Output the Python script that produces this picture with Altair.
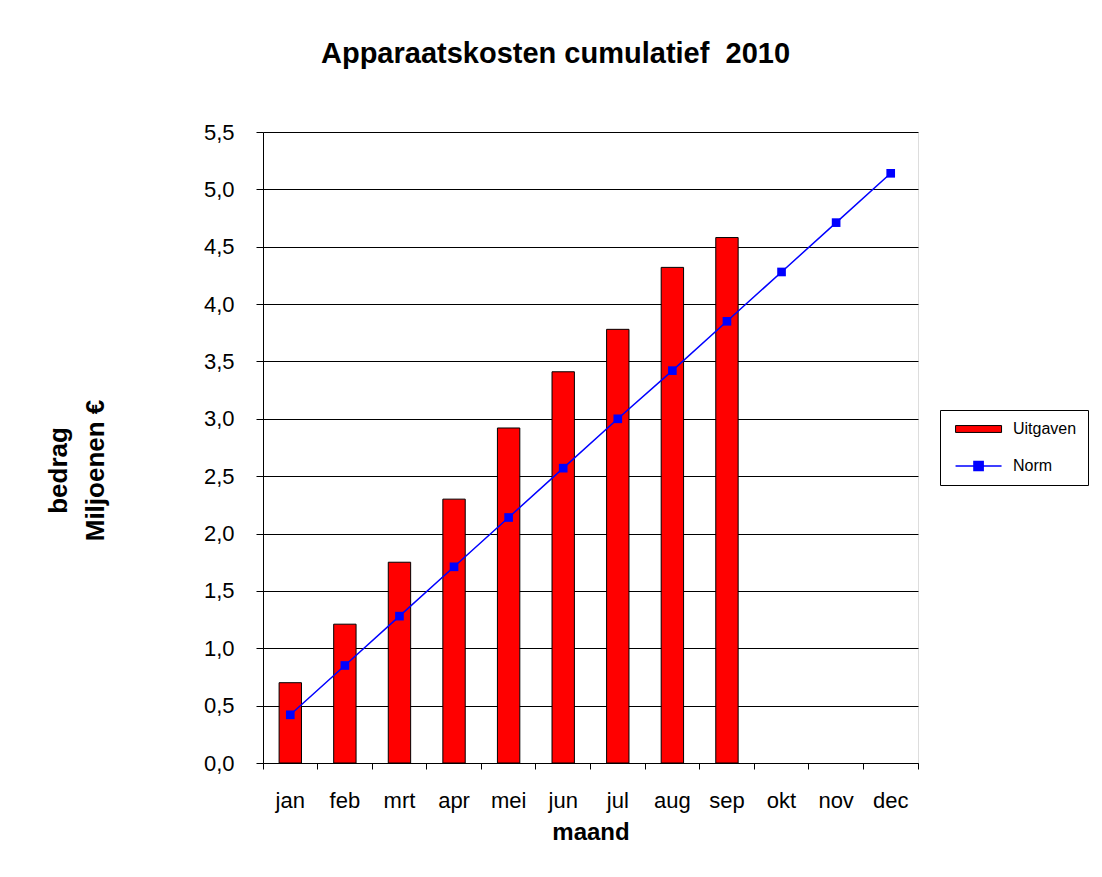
import altair as alt
import pandas as pd

months = ["jan", "feb", "mrt", "apr", "mei", "jun", "jul", "aug", "sep", "okt", "nov", "dec"]
uitgaven = [0.70, 1.21, 1.75, 2.30, 2.92, 3.41, 3.78, 4.32, 4.58]
norm = [0.42, 0.85, 1.28, 1.71, 2.14, 2.57, 3.00, 3.42, 3.85, 4.28, 4.71, 5.14]
series_names = ["Uitgaven", "Norm"]
series_colors = ["#ff0000", "#0000ff"]
y_ticks = [0.0, 0.5, 1.0, 1.5, 2.0, 2.5, 3.0, 3.5, 4.0, 4.5, 5.0, 5.5]

bars_df = pd.DataFrame({"maand": months[:len(uitgaven)], "bedrag": uitgaven, "reeks": series_names[0]})
norm_df = pd.DataFrame({"maand": months, "bedrag": norm, "reeks": series_names[1]})

FONT = "Liberation Sans"
W, H = 655, 631

x_enc = alt.X(
    "maand:N",
    sort=months,
    scale=alt.Scale(domain=months, paddingInner=0, paddingOuter=0),
    axis=alt.Axis(
        title="maand", titleFont=FONT, titleFontSize=24, titleFontWeight="bold",
        titleColor="black", titlePadding=9,
        labelAngle=0, labelFont=FONT, labelFontSize=22, labelColor="black",
        labelPadding=21, bandPosition=1, tickExtra=True,
        tickSize=6, tickColor="black", domainColor="black", grid=False,
    ),
)
y_enc = alt.Y(
    "bedrag:Q",
    scale=alt.Scale(domain=[0, 5.5], nice=False, zero=True),
    axis=alt.Axis(
        values=y_ticks,
        labelExpr="replace(format(datum.value, '.1f'), '.', ',')",
        title=["bedrag", "Miljoenen €"], titleFont=FONT, titleFontSize=26,
        titleFontWeight="bold", titleColor="black", titleLineHeight=37,
        titleAngle=270, titleAlign="center", titleBaseline="middle",
        titleX=-205, titleY=338,
        labelFont=FONT, labelFontSize=22, labelColor="black", labelPadding=22,
        tickSize=7, tickColor="black", domainColor="black",
        grid=True, gridColor="black", gridOpacity=1, gridWidth=1,
    ),
)

PATH_BAR = "M-0.3,-0.3H3.7V0.3H-0.3Z"
PATH_LINE = "M-0.3,0H3.7M1.3,-0.4H2.1V0.4H1.3Z"
is_bar = "datum.value === 'Uitgaven'"

legend = alt.Legend(
    title=None, orient="none", legendX=677, legendY=278, direction="vertical",
    symbolSize=529, labelFont=FONT, labelFontSize=16, labelColor="black",
    labelOffset=46, rowPadding=21, padding=11, strokeColor="black", fillColor="white",
    labelExpr="datum.label + '\u2003\u2003'",
    symbolType=alt.ExprRef(expr=f"{is_bar} ? '{PATH_BAR}' : '{PATH_LINE}'"),
    symbolStrokeColor=alt.ExprRef(expr=f"{is_bar} ? 'black' : '#0000ff'"),
    symbolStrokeWidth=alt.ExprRef(expr=f"{is_bar} ? 1 : 1.5"),
    symbolOpacity=1,
)

bars = alt.Chart(bars_df).mark_bar(
    width=alt.RelativeBandSize(0.41), stroke="black", strokeWidth=1, opacity=1
).encode(
    x=x_enc,
    y=y_enc,
    color=alt.Color("reeks:N", scale=alt.Scale(domain=series_names, range=series_colors), legend=legend),
)

line = alt.Chart(norm_df).mark_line(
    color="#0000ff", strokeWidth=1.5,
    point=alt.OverlayMarkDef(shape="square", size=75, filled=True, color="#0000ff", opacity=1),
).encode(x=x_enc, y=y_enc)

chart = alt.layer(bars, line).properties(
    width=W, height=H,
    title=alt.Title(
        "Apparaatskosten cumulatief\u00a0 2010", font=FONT, fontSize=29,
        fontWeight="bold", color="black", anchor="start", dx=276, offset=52,
    ),
    autosize=alt.AutoSizeParams(type="none"),
    padding={"left": 255, "top": 124, "right": 176, "bottom": 100},
).configure_view(stroke="black", strokeWidth=1).configure(background="white")

chart.save("out.html", embed_options={"renderer": "svg", "actions": False})
